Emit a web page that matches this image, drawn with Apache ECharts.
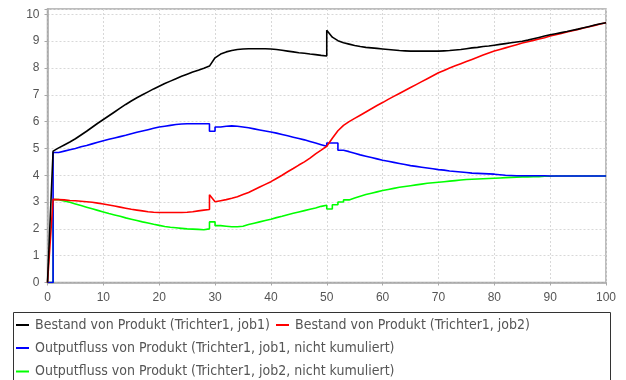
<!DOCTYPE html>
<html>
<head>
<meta charset="utf-8">
<script src="https://cdn.jsdelivr.net/npm/echarts@6/dist/echarts.min.js"></script>
<style>html,body{margin:0;padding:0;background:#fff;}#c{width:626px;height:380px;}</style>
</head>
<body>
<div id="c"></div>
<script>
// time axis (duplicated x where a series jumps)
const xs = [0,1,2,3,4,5,6,7,8,9,10,11,12,13,14,15,16,17,18,19,20,21,22,23,24,25,26,27,28,29,
  29,30,31,32,33,34,35,36,37,38,39,40,41,42,43,44,45,46,47,48,49,50,
  50,51,52,53,54,55,56,57,58,59,60,61,62,63,64,65,66,67,68,69,70,71,72,73,74,75,76,77,78,79,80,
  81,82,83,84,85,86,87,88,89,90,91,92,93,94,95,96,97,98,99,100];

const seriesNames = [
  'Bestand von Produkt (Trichter1, job1)',
  'Bestand von Produkt (Trichter1, job2)',
  'Outputfluss von Produkt (Trichter1, job1, nicht kumuliert)',
  'Outputfluss von Produkt (Trichter1, job2, nicht kumuliert)'
];

const bestandJob1 = [0,4.9,5.02,5.13,5.24,5.36,5.5,5.64,5.79,5.94,6.08,6.22,6.36,6.5,6.64,6.77,6.89,7.0,7.11,7.22,7.32,7.42,7.51,7.6,7.69,7.77,7.85,7.92,7.99,8.07,
  8.07,8.38,8.52,8.6,8.65,8.69,8.71,8.72,8.72,8.72,8.72,8.71,8.69,8.66,8.63,8.6,8.57,8.55,8.52,8.5,8.47,8.45,
  9.41,9.15,9.02,8.94,8.89,8.84,8.8,8.77,8.75,8.73,8.71,8.69,8.67,8.65,8.64,8.63,8.63,8.63,8.63,8.63,8.63,
  8.64,8.65,8.67,8.69,8.72,8.75,8.77,8.8,8.82,8.85,8.88,8.91,8.94,8.97,9.0,9.04,9.09,9.14,9.19,9.24,
  9.28,9.32,9.36,9.41,9.45,9.5,9.55,9.6,9.65,9.69];

const bestandJob2 = [0,3.1,3.09,3.08,3.06,3.05,3.03,3.01,2.99,2.96,2.93,2.89,2.85,2.81,2.77,2.73,2.7,2.67,2.64,2.62,2.61,2.61,2.61,2.61,2.61,2.62,2.64,2.67,2.7,2.72,
  3.27,3.01,3.05,3.09,3.14,3.2,3.28,3.36,3.46,3.56,3.66,3.76,3.88,4.0,4.13,4.25,4.38,4.5,4.64,4.8,4.94,5.08,
  5.08,5.38,5.66,5.86,6.0,6.12,6.24,6.36,6.48,6.6,6.71,6.83,6.94,7.05,7.16,7.27,7.38,7.49,7.6,7.71,7.82,
  7.91,8.0,8.08,8.16,8.24,8.32,8.4,8.48,8.56,8.63,8.69,8.75,8.81,8.87,8.93,8.98,9.03,9.08,9.13,9.19,
  9.24,9.29,9.34,9.39,9.44,9.49,9.54,9.59,9.64,9.69];

const outputJob1 = [0,4.85,4.9,4.95,5.0,5.06,5.11,5.17,5.23,5.29,5.34,5.39,5.44,5.49,5.55,5.6,5.65,5.7,5.75,5.8,5.83,5.86,5.89,5.91,5.92,5.92,5.92,5.92,5.92,5.92,
  5.64,5.8,5.83,5.84,5.83,5.8,5.77,5.73,5.69,5.65,5.61,5.57,5.52,5.47,5.42,5.37,5.32,5.26,5.2,5.14,5.08,5.03,
  5.2,5.2,4.93,4.88,4.82,4.76,4.71,4.66,4.61,4.56,4.52,4.48,4.44,4.4,4.36,4.33,4.3,4.27,4.24,4.21,4.19,
  4.16,4.14,4.12,4.1,4.08,4.07,4.06,4.05,4.04,4.02,4.0,3.99,3.98,3.98,3.98,3.98,3.98,3.98,3.97,3.97,
  3.97,3.97,3.97,3.97,3.97,3.97,3.97,3.97,3.97,3.97];

const outputJob2 = [0,3.09,3.04,2.99,2.93,2.87,2.81,2.75,2.69,2.63,2.57,2.52,2.47,2.41,2.36,2.31,2.26,2.22,2.17,2.13,2.09,2.06,2.04,2.02,2.0,1.99,1.98,1.97,2.0,2.01,
  2.26,2.12,2.1,2.08,2.08,2.1,2.16,2.21,2.26,2.31,2.36,2.42,2.47,2.53,2.58,2.63,2.68,2.73,2.78,2.84,2.88,2.93,
  2.74,2.9,3.0,3.08,3.15,3.22,3.28,3.33,3.38,3.43,3.47,3.51,3.55,3.58,3.61,3.64,3.67,3.7,3.72,3.74,3.76,
  3.78,3.8,3.82,3.84,3.85,3.86,3.87,3.88,3.89,3.9,3.91,3.92,3.93,3.94,3.94,3.95,3.95,3.96,3.96,3.97,
  3.97,3.97,3.97,3.97,3.97,3.97,3.97,3.97,3.97,3.97];

const colors = ['#000000', '#ff0000', '#0000ff', '#00ff00'];
const values = [bestandJob1, bestandJob2, outputJob1, outputJob2];
const stepped = [false, false, 'end', 'end'];

const FONT = 'Liberation Sans';
const LEGEND_FONT = '"DejaVu Sans Condensed", "DejaVu Sans"';
const chart = echarts.init(document.getElementById('c'), null, {renderer: 'canvas'});

const series = seriesNames.map((name, k) => ({
  name: name,
  type: 'line',
  data: xs.map((x, i) => [x, values[k][i]]),
  step: stepped[k],
  showSymbol: false,
  symbol: 'none',
  animation: false,
  z: 10 - k,
  lineStyle: {color: colors[k], width: 1.6},
  itemStyle: {color: colors[k]}
}));

function legendRow(names, top) {
  return {
    data: names,
    left: 16,
    top: top,
    orient: 'horizontal',
    icon: 'rect',
    itemWidth: 13,
    itemHeight: 2,
    itemGap: 6,
    padding: 0,
    selectedMode: false,
    textStyle: {fontFamily: LEGEND_FONT, fontSize: 14, lineHeight: 16, color: '#555', padding: [0, 0, 0, 1]}
  };
}

chart.setOption({
  backgroundColor: '#ffffff',
  animation: false,
  grid: {left: 47.5, right: 20, top: 9, bottom: 97.5, show: true, borderColor: '#a8a8a8', borderWidth: 1.5, backgroundColor: '#fff'},
  xAxis: {
    type: 'value', min: 0, max: 100, interval: 10, offset: 3,
    axisLine: {show: true, lineStyle: {color: '#a8a8a8', width: 1.5}},
    axisTick: {show: true, length: 3, lineStyle: {color: '#a8a8a8'}},
    axisLabel: {fontFamily: FONT, fontSize: 12, color: '#555', margin: 6},
    splitLine: {show: true, lineStyle: {color: '#d8d8d8', type: [2, 2], width: 1}}
  },
  yAxis: {
    type: 'value', min: 0, max: 10.2, interval: 1, offset: 4,
    axisLine: {show: true, lineStyle: {color: '#a8a8a8', width: 1.5}},
    axisTick: {show: true, length: 3, lineStyle: {color: '#a8a8a8'}},
    axisLabel: {fontFamily: FONT, fontSize: 12, color: '#555', margin: 4,
      formatter: v => Number.isInteger(v) ? String(v) : ''},
    splitLine: {show: true, lineStyle: {color: '#d8d8d8', type: [2, 2], width: 1}}
  },
  legend: [
    legendRow([seriesNames[0], seriesNames[1]], 317),
    legendRow([seriesNames[2]], 340),
    legendRow([seriesNames[3]], 363.5)
  ],
  graphic: [{
    type: 'rect', silent: true,
    shape: {x: 13.5, y: 312.5, width: 597, height: 80},
    style: {fill: 'none', stroke: '#333', lineWidth: 1}
  }],
  series: series
});
</script>
</body>
</html>
